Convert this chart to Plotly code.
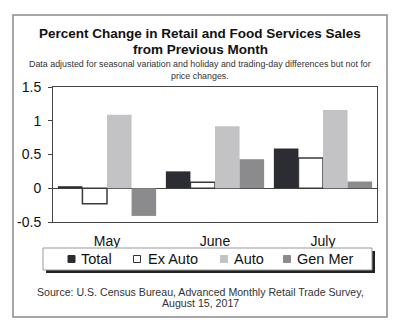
import plotly.graph_objects as go

months = ["May", "June", "July"]
series_names = ["Total", "Ex Auto", "Auto", "Gen Mer"]
total = [0.03, 0.25, 0.59]
ex_auto = [-0.23, 0.09, 0.45]
auto = [1.09, 0.92, 1.16]
gen_mer = [-0.41, 0.43, 0.10]
y_ticks = [-0.5, 0, 0.5, 1, 1.5]
y_tick_labels = ["-0.5", "0", "0.5", "1", "1.5"]

W, H = 399, 330
L, R, T, B = 53, 377, 87, 222  # plot area in pixels


def px(x):
    return (x - L) / (R - L)


def py(y):
    return (B - y) / (B - T)


fills = ["#2c2d32", "#ffffff", "#c3c3c5", "#8b8b8d"]
lines = ["#2c2d32", "#3a3a3a", "#c3c3c5", "#8b8b8d"]
values = [total, ex_auto, auto, gen_mer]

fig = go.Figure()
for name, vals, fc, lc in zip(series_names, values, fills, lines):
    fig.add_trace(go.Bar(
        x=months, y=vals, name=name,
        marker=dict(color=fc, line=dict(color=lc, width=1.5 if fc == "#ffffff" else 0)),
        showlegend=False,
    ))

font = "Liberation Sans, Arial, sans-serif"
ann = []
shapes = []

# titles
ann.append(dict(text="<b>Percent Change in Retail and Food Services Sales</b>", x=px(200), y=py(33),
                font=dict(size=13.5, color="#111", family=font)))
ann.append(dict(text="<b>from Previous Month</b>", x=px(200), y=py(49),
                font=dict(size=13.5, color="#111", family=font)))
ann.append(dict(text="Data adjusted for seasonal variation and holiday and trading-day differences but not for",
                x=px(200), y=py(64), font=dict(size=8.9, color="#333", family=font)))
ann.append(dict(text="price changes.", x=px(200), y=py(76), font=dict(size=8.9, color="#333", family=font)))
ann.append(dict(text="Source: U.S. Census Bureau, Advanced Monthly Retail Trade Survey,",
                x=px(200), y=py(292), font=dict(size=10.6, color="#333", family=font)))
ann.append(dict(text="August 15, 2017", x=px(200), y=py(303), font=dict(size=10.6, color="#333", family=font)))

# outer frame
shapes.append(dict(type="rect", xref="paper", yref="paper", x0=px(13), x1=px(387), y0=py(317), y1=py(15),
                   line=dict(color="#8a8a8a", width=1.5), layer="below"))

# legend box with shadow
shapes.append(dict(type="rect", xref="paper", yref="paper", x0=px(46), x1=px(375), y0=py(273), y1=py(251),
                   line=dict(width=0), fillcolor="#222"))
shapes.append(dict(type="rect", xref="paper", yref="paper", x0=px(43), x1=px(372), y0=py(270), y1=py(248),
                   line=dict(color="#999", width=1), fillcolor="#fff"))

sq_centers = [71.5, 137, 224, 287]
text_starts = [79, 146, 232, 295]
for name, fc, lc, cx, tx in zip(series_names, fills, lines, sq_centers, text_starts):
    shapes.append(dict(type="rect", xref="paper", yref="paper", x0=px(cx - 3.5), x1=px(cx + 3.5),
                       y0=py(262.5), y1=py(255.5), fillcolor=fc,
                       line=dict(color="#333" if fc == "#ffffff" else fc, width=1)))
    ann.append(dict(text=name, x=px(tx), y=py(259), xanchor="left",
                    font=dict(size=14.5, color="#111", family=font)))

for a in ann:
    a.update(xref="paper", yref="paper", showarrow=False)
    a.setdefault("xanchor", "center")
    a.setdefault("yanchor", "middle")

fig.update_layout(
    width=W, height=H,
    margin=dict(l=L, r=W - R, t=T, b=H - B, pad=0),
    paper_bgcolor="#fff", plot_bgcolor="#fff",
    barmode="group", bargap=0.09, bargroupgap=0,
    annotations=ann, shapes=shapes,
    xaxis=dict(showline=True, mirror=True, linecolor="#444", linewidth=1, ticks="",
               tickfont=dict(size=14, color="#111", family=font), ticklabelstandoff=6,
               showgrid=False, fixedrange=True),
    yaxis=dict(range=[-0.5, 1.5], tickvals=y_ticks, ticktext=y_tick_labels,
               showline=True, mirror=True, linecolor="#444", linewidth=1,
               ticks="outside", ticklen=4, tickcolor="#444",
               tickfont=dict(size=14, color="#111", family=font), ticklabelstandoff=4,
               showgrid=False, zeroline=True, zerolinecolor="#444", zerolinewidth=1),
)

fig.write_html("out.html")
